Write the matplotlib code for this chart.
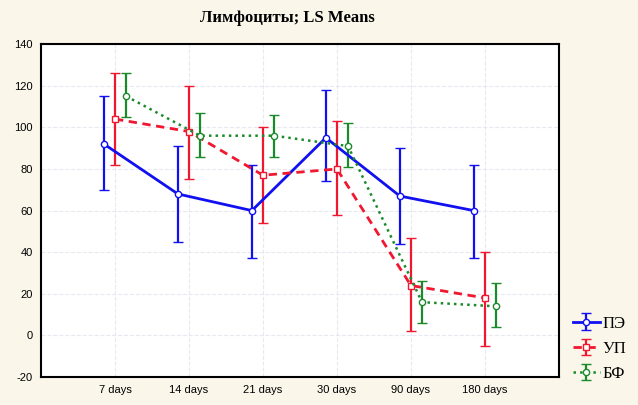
import matplotlib.pyplot as plt
import numpy as np

# data
days = ['7 days', '14 days', '21 days', '30 days', '90 days', '180 days']

pe_mean = [92, 68, 60, 95, 67, 60]
pe_low = [70, 45, 37, 74, 44, 37]
pe_high = [115, 91, 82, 118, 90, 82]

up_mean = [104, 98, 77, 80, 24, 18]
up_low = [82, 75, 54, 58, 2, -5]
up_high = [126, 120, 100, 103, 47, 40]

bf_mean = [115, 96, 96, 91, 16, 14]
bf_low = [105, 86, 86, 81, 6, 4]
bf_high = [126, 107, 106, 102, 26, 25]

plt.rcParams['axes.unicode_minus'] = False

bg = '#faf6ea'
fig = plt.figure(figsize=(6.38, 4.05), dpi=100, facecolor=bg)
ax = fig.add_axes([0.0643, 0.069, 0.8117, 0.822])
ax.set_facecolor('white')

x = np.arange(len(days))

def draw(mean, low, high, off, color, ls, marker, lw, label):
    mean = np.array(mean)
    yerr = [mean - np.array(low), np.array(high) - mean]
    return ax.errorbar(x + off, mean, yerr=yerr, color=color, ls=ls, lw=lw,
                       marker=marker, ms=4.5, mfc='white', mec=color, mew=1,
                       elinewidth=1.6, capsize=3.5, capthick=1.6, label=label)

h1 = draw(pe_mean, pe_low, pe_high, -0.15, '#1010f0', '-', 'o', 2.0, 'ПЭ')
h2 = draw(up_mean, up_low, up_high, 0.0, '#f01830', (0, (3, 2)), 's', 2.0, 'УП')
h3 = draw(bf_mean, bf_low, bf_high, 0.15, '#1a8a2a', ':', 'o', 1.8, 'БФ')

ax.set_xlim(-1, 6)
ax.set_ylim(-20, 140)
ax.set_yticks(range(-20, 141, 20))
ax.set_xticks(x)
ax.set_xticklabels(days)
ax.tick_params(length=0, labelsize=8, pad=6)
for lab in ax.get_xticklabels() + ax.get_yticklabels():
    lab.set_family('Liberation Sans')
ax.grid(True, color='#e8e8f0', ls='--', lw=0.8)
ax.set_axisbelow(True)
for s in ax.spines.values():
    s.set_linewidth(1.5)

fig.text(0.45, 0.955, 'Лимфоциты; LS Means', ha='center', va='center',
         fontsize=12, fontweight='bold', family='Liberation Serif')

fig.legend([h1, h2, h3], ['ПЭ', 'УП', 'БФ'], loc='lower left',
           bbox_to_anchor=(0.88, 0.028), frameon=False, handlelength=1.6,
           handletextpad=0.15, labelspacing=0.55, borderpad=0.2,
           prop={'family': 'Liberation Serif', 'size': 12})

fig.savefig('out.png', dpi=100, facecolor=bg)
